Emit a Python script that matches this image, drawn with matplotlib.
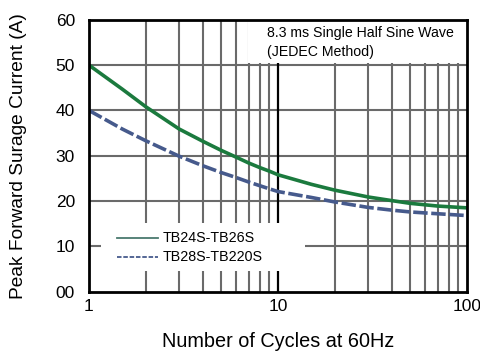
import matplotlib.pyplot as plt
from matplotlib.lines import Line2D
from matplotlib.patches import Rectangle

plt.rcParams['font.family'] = ['Liberation Sans', 'DejaVu Sans']

##############################################################################
### Data ###
cycles = [1, 1.5, 2, 3, 4, 5, 6, 7, 8, 9, 10, 15, 20, 30, 40, 50, 70, 100]
i_tb24 = [50, 44.7, 40.8, 35.9, 33.2, 31.2, 29.7, 28.4, 27.4, 26.6, 25.8,
          23.7, 22.4, 20.9, 20.1, 19.5, 18.9, 18.5]
i_tb28 = [40, 35.9, 33.3, 29.9, 27.8, 26.3, 25.2, 24.2, 23.4, 22.7, 22.1,
          20.8, 19.8, 18.6, 18.0, 17.6, 17.2, 16.8]
ytick_vals = [0, 10, 20, 30, 40, 50, 60]
ytick_labels = ['00', '10', '20', '30', '40', '50', '60']
xtick_vals = [1, 10, 100]
xtick_labels = ['1', '10', '100']

green = '#1b7a3e'
blue = '#465a8c'
grid_c = '#6a6a6a'

##############################################################################
### Plot ###
fig = plt.figure(figsize=(4.81, 3.54), dpi=100)
ax = fig.add_axes([0.185, 0.176, 0.786, 0.768])
ax.set_xscale('log')
ax.set_xlim(1, 100)
ax.set_ylim(0, 60)

# grid
for dec in [1, 10]:
    for m in range(2, 10):
        ax.axvline(dec * m, color=grid_c, lw=1.5, zorder=1)
ax.axvline(10, color='black', lw=1.6, zorder=1.5)
for yv in [10, 20, 30, 40, 50]:
    ax.axhline(yv, color=grid_c, lw=1.5, zorder=1)

# white boxes for annotation and legend
ax.add_patch(Rectangle((0.42, 0.84), 0.58, 0.16, transform=ax.transAxes,
                       facecolor='white', edgecolor='none', zorder=2))
ax.add_patch(Rectangle((0.032, 0.076), 0.539, 0.177, transform=ax.transAxes,
                       facecolor='white', edgecolor='none', zorder=2))

ax.plot(cycles, i_tb24, color=green, lw=2.6, zorder=3,
        solid_joinstyle='round')
ax.plot(cycles, i_tb28, color=blue, lw=2.6, ls=(0, (4, 1)), zorder=3)

ax.text(0.47, 0.952, '8.3 ms Single Half Sine Wave', transform=ax.transAxes,
        fontsize=10.2, va='center', zorder=4)
ax.text(0.47, 0.882, '(JEDEC Method)', transform=ax.transAxes,
        fontsize=10.2, va='center', zorder=4)

# legend drawn by hand to match the reference
ax.add_line(Line2D([0.074, 0.183], [0.199, 0.199], transform=ax.transAxes,
                   color='#4a7a6e', lw=1.3, zorder=4))
ax.add_line(Line2D([0.074, 0.183], [0.127, 0.127], transform=ax.transAxes,
                   color=blue, lw=1.3, ls=(0, (2.5, 1)), zorder=4))
ax.text(0.196, 0.199, 'TB24S-TB26S', transform=ax.transAxes,
        fontsize=10.3, va='center', zorder=4)
ax.text(0.196, 0.127, 'TB28S-TB220S', transform=ax.transAxes,
        fontsize=10.3, va='center', zorder=4)

ax.set_yticks(ytick_vals)
ax.set_yticklabels(ytick_labels)
ax.set_xticks(xtick_vals)
ax.set_xticklabels(xtick_labels)
ax.minorticks_off()
ax.tick_params(length=0, labelsize=12.5)
ax.tick_params(axis='y', pad=10)
ax.tick_params(axis='x', pad=5)

for s in ax.spines.values():
    s.set_linewidth(2)
    s.set_zorder(5)

ax.set_xlabel('Number of Cycles at 60Hz', fontsize=14.3, labelpad=13)
ax.set_ylabel('Peak Forward Surage Current (A)', fontsize=13.8, labelpad=21)

plt.savefig('out.png', dpi=100)
